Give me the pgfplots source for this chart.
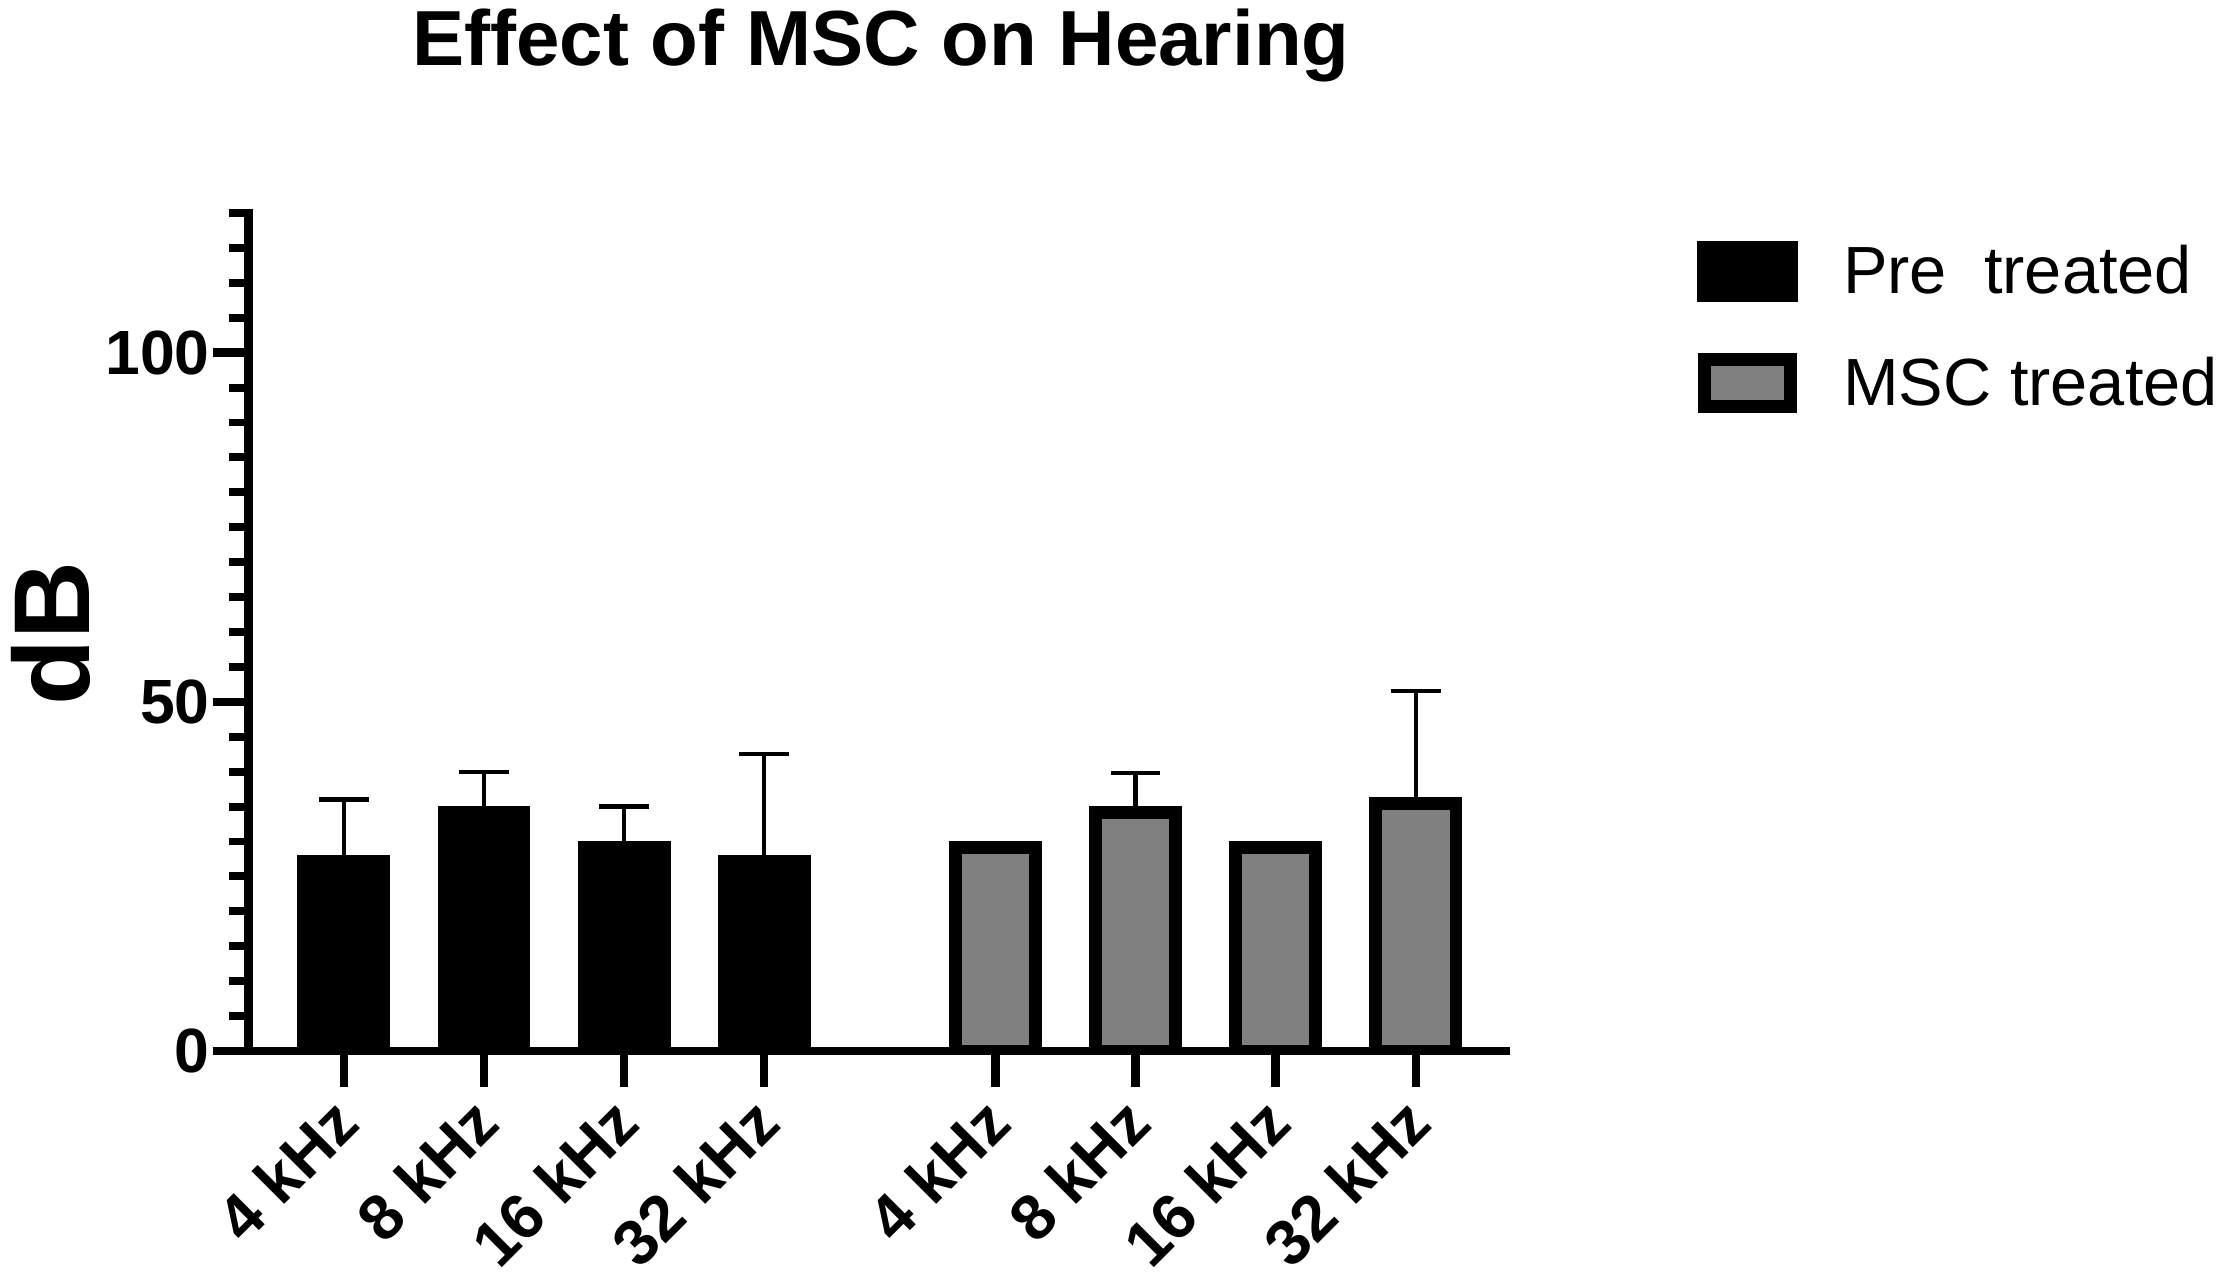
\documentclass[border=0pt]{standalone}
\usepackage{fontspec}
\setmainfont{Liberation Sans}
\usepackage{pgfplots}
\pgfplotsset{compat=1.18}
\usepackage{pgfplotstable}

\pgfplotstableread{
x     y     e
0     28    8
1     35    5
2     30    5
3     28    14.5
}\pretreated

\pgfplotstableread{
x     y     e
4.65  29.1  0
5.65  34.1  5.7
6.65  29.1  0
7.65  35.4  16.2
}\msctreated

\begin{document}
\begin{tikzpicture}
\begin{axis}[
  name=ax,
  at={(0pt,0pt)}, anchor=south west,
  scale only axis,
  width=442.5pt, height=295pt,
  xmin=-0.68, xmax=8.29,
  ymin=0, ymax=120,
  axis on top,
  axis x line*=bottom, axis y line*=left,
  axis line style={-, line width=2.9pt, line cap=rect},
  tick align=outside,
  major tick length=12.65pt,
  tick style={line width=3pt, black},
  xtick={0,1,2,3,4.65,5.65,6.65,7.65},
  xticklabels={4 kHz,8 kHz,16 kHz,32 kHz,4 kHz,8 kHz,16 kHz,32 kHz},
  ytick={0,50,100},
  extra y ticks={5,10,15,20,25,30,35,40,45,55,60,65,70,75,80,85,90,95,105,110,115,120},
  extra y tick labels={},
  extra y tick style={major tick length=7pt, tick style={line width=2.8pt, black}},
  /pgf/number format/assume math mode=true,
  yticklabel style={font=\bfseries\fontsize{22}{24}\selectfont, inner sep=0pt, xshift=-0.85pt},
  xticklabel style={font=\bfseries\fontsize{22.5}{24}\selectfont, inner sep=0pt, xshift=-5pt, yshift=-2.35pt, rotate=45, anchor=north east},
  title={Effect of MSC on Hearing},
  title style={font=\bfseries\fontsize{27.5}{30}\selectfont, at={(0.503,1)}, anchor=base, yshift=46pt},
  ylabel={dB},
  ylabel style={font=\bfseries\fontsize{38}{40}\selectfont, at={([xshift=-69.5pt]axis description cs:0,0.498)}, anchor=center},
  legend style={draw=none, fill=none, inner sep=0pt, outer sep=0pt,
    at={(1.1525,0.9661)}, anchor=north west,
    font=\fontsize{23.5}{25}\selectfont,
    row sep=18pt, column sep=16pt,
    nodes={inner sep=0pt}},
  legend cell align=left,
]
\addplot[ybar, bar width=0.655, bar shift=0pt, fill=black, draw=black, line width=0.4pt,
  legend image code/.code={\fill[black] (0pt,-10.5pt) rectangle (35pt,10.5pt);},
  error bars/.cd, y dir=plus, y explicit,
  error bar style={line width=1.5pt, black},
  error mark options={line width=1.5pt, mark size=8.75pt, black, rotate=90}]
  table[x=x, y=y, y error=e] {\pretreated};
\addlegendentry{Pre\ \ treated}
\addplot[ybar, bar width=0.572, bar shift=0pt, fill=gray, draw=black, line width=4.5pt,
  legend image code/.code={\filldraw[fill=gray, draw=black, line width=4.5pt] (2.25pt,-8.25pt) rectangle (32.75pt,8.25pt);},
  error bars/.cd, y dir=plus, y explicit,
  error bar style={line width=1.5pt, black},
  error mark options={line width=1.5pt, mark size=8.75pt, black, rotate=90}]
  table[x=x, y=y, y error=e] {\msctreated};
\addlegendentry{MSC treated}
\end{axis}
\pgfresetboundingbox
\path[use as bounding box] (-87.5pt,-81.5pt) rectangle (696.5pt,370pt);
\end{tikzpicture}
\end{document}
